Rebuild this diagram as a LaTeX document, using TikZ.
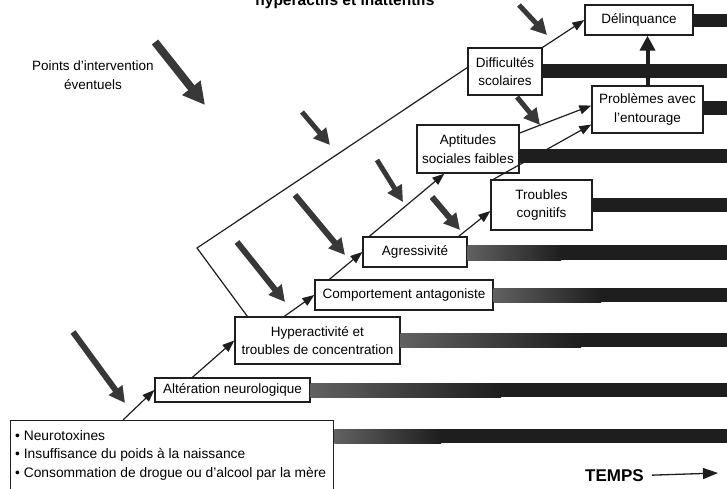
\documentclass[tikz,border=0pt]{standalone}
\usepackage{fontspec}
\setmainfont{Liberation Sans}
\usetikzlibrary{arrows.meta,calc}
\definecolor{ink}{HTML}{1E1E1E}
\definecolor{arr}{HTML}{383838}
\begin{document}
\begin{tikzpicture}[x=1pt,y=-1pt,
  every node/.style={font=\fontsize{13.5}{18.5}\selectfont, text=black},
  box/.style={draw=ink, line width=1.3pt, fill=white, inner sep=0pt, align=center},
  conn/.style={draw=ink, line width=1.2pt, -{Triangle[length=12pt,width=9pt]}},
  plainline/.style={draw=ink, line width=1.2pt},
  bigconn/.style={draw=ink, line width=4pt, -{Triangle[length=15pt,width=15pt]}},
  iarrow/.style={draw=arr, line width=6pt, -{Triangle[length=16pt,width=16pt]}},
  bigiarrow/.style={draw=arr, line width=8pt, -{Triangle[length=22pt,width=22pt]}},
  darkbar/.style={fill=ink},
  lightbar/.style={left color=black!62, right color=ink}
]
\useasboundingbox (0,0) rectangle (727,488);
\fill[white] (0,0) rectangle (727,488);

% title (cut at top, as in the reference)
\node[anchor=base, font=\bfseries\fontsize{15.5}{18}\selectfont] (title) at (345,5) {hyperactifs et inattentifs};

% boxes
\node[box, minimum width=108pt, minimum height=30pt] (del) at (639,20) {Délinquance};
\node[box, minimum width=74pt, minimum height=47pt] (dif) at (505,71.5) {Difficultés\\scolaires};
\node[box, minimum width=111pt, minimum height=47pt] (pro) at (647.5,109.5) {Problèmes avec\\l'entourage};
\node[box, minimum width=102pt, minimum height=48pt] (apt) at (468,149) {Aptitudes\\sociales faibles};
\node[box, minimum width=101pt, minimum height=50pt] (tro) at (541.5,205) {Troubles\\cognitifs};
\node[box, minimum width=104pt, minimum height=30pt] (agr) at (415,252) {Agressivité};
\node[box, minimum width=178pt, minimum height=30pt] (com) at (404,295) {Comportement antagoniste};
\node[box, minimum width=165pt, minimum height=47pt] (hyp) at (317.5,340.5) {Hyperactivité et\\troubles de concentration};
\node[box, minimum width=155pt, minimum height=24pt] (alt) at (232.5,390) {Altération neurologique};
\node[box, anchor=north west, minimum width=323pt, minimum height=80pt] (src) at (10,420) {};
\node[anchor=north west, align=left, inner sep=0pt, font=\fontsize{13.8}{18.5}\selectfont] (srctxt) at (15,430) {• Neurotoxines\\• Insuffisance du poids à la naissance\\• Consommation de drogue ou d'alcool par la mère};

% time bars
\fill[darkbar] (del.east |- 0,14) rectangle (727,27);
\fill[darkbar] (dif.east |- 0,64) rectangle (727,78);
\fill[darkbar] (pro.east |- 0,101) rectangle (727,115);
\fill[darkbar] (apt.east |- 0,149) rectangle (727,163);
\fill[darkbar] (tro.east |- 0,198) rectangle (727,212);
\fill[darkbar] (560,245) rectangle (727,260);
\shade[lightbar] (agr.east |- 0,245) rectangle (561,260);
\fill[darkbar] (600,288) rectangle (727,302);
\shade[lightbar] (com.east |- 0,288) rectangle (601,302);
\fill[darkbar] (580,333) rectangle (727,347);
\shade[lightbar] (hyp.east |- 0,333) rectangle (581,347);
\fill[darkbar] (500,383) rectangle (727,397);
\shade[lightbar] (alt.east |- 0,383) rectangle (501,397);
\fill[darkbar] (440,429) rectangle (727,443);
\shade[lightbar] (src.east |- 0,429) rectangle (441,443);

% connectors
\coordinate (bend) at (197,248);
\draw[conn] ([xshift=113pt]src.north west) -- (alt.west);
\draw[conn] ([xshift=38pt]alt.north west) -- (hyp.west);
\draw[conn] ([xshift=50pt]hyp.north west) -- (com.west);
\draw[conn] ([xshift=15pt]com.north west) -- (agr.west);
\draw[conn] ([xshift=7pt]agr.north west) -- ([xshift=28pt]apt.south west);
\draw[conn] ([xshift=-9pt]agr.north east) -- ([yshift=-6pt]tro.west);
\draw[conn] ([xshift=3pt]tro.north west) -- ([yshift=-15pt]pro.west);
\draw[conn] ([yshift=16pt]apt.east) -- ([yshift=4pt]pro.west);
\draw[conn] (dif.north east) -- (del.west);
\draw[bigconn] (pro.north) -- (pro.north |- del.south);
\draw[plainline] ([xshift=13pt]hyp.north west) -- (bend) -- ([yshift=4pt]dif.west);

% intervention arrows
\draw[bigiarrow] (155,42) -- (205,105);
\draw[iarrow, line width=5pt] (302,112) -- (330,145);
\draw[iarrow, line width=5pt] (519,5) -- (547,35);
\draw[iarrow, line width=5pt] (517,97) -- (540,125);
\draw[iarrow, line width=5pt] (377,160) -- (403,202);
\draw[iarrow] (432,197) -- (460,230);
\draw[iarrow] (295,195) -- (345,255);
\draw[iarrow] (237,242) -- (285,302);
\draw[iarrow] (73,332) -- (125,403);

% labels
\node[align=center] (pts) at (93,75) {Points d’intervention\\éventuels};
\node[anchor=base west, font=\bfseries\fontsize{17}{20}\selectfont, inner sep=0pt] (temps) at (585,481) {TEMPS};
\coordinate (tend) at (718,473);
\draw[draw=ink, line width=1.3pt, -{Triangle[length=15pt,width=11pt]}] ([xshift=8pt]temps.east) -- (tend);
\end{tikzpicture}
\end{document}
